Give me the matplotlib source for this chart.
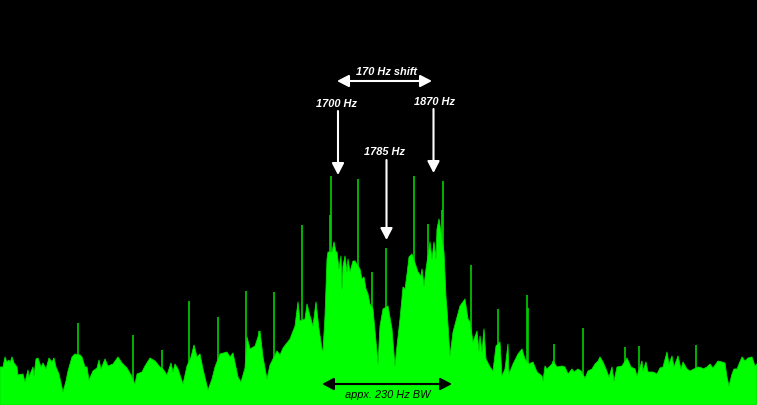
import matplotlib
matplotlib.use("Agg")
import matplotlib.pyplot as plt

# spectrum envelope (column, height above the bottom edge)
env_x = [0, 3, 5, 7, 9, 10, 12, 14, 17, 18, 23, 25, 28, 29, 33, 34, 36, 38, 41, 43, 46, 49, 52, 54, 56, 59, 63,
         66, 68, 72, 75, 80, 82, 85, 87, 89, 93, 97, 99, 101, 105, 108, 113, 118, 122, 127, 131, 135, 137,
         142, 145, 150, 155, 160, 163, 167, 171, 173, 175, 178, 183, 187, 191, 194, 197, 200, 203, 208, 212,
         215, 220, 227, 230, 233, 238, 241, 245, 247, 250, 255, 260, 263, 267, 270, 277, 280, 283,
         290, 295, 298, 300, 305, 307, 310, 313, 316, 319, 322, 323, 325, 327, 328, 332, 334, 336, 337, 339, 341,
         342, 343, 345, 347, 348, 350, 353, 355, 360, 362, 364, 366, 368, 370, 373, 377, 378, 380, 383, 388,
         392, 395, 397, 400, 403, 405, 407, 409, 412, 417, 418, 421, 422, 424, 426, 430, 432, 434, 436, 437, 439,
         444, 446, 447, 450, 453, 460, 465, 468, 470, 473, 477, 479, 480, 482, 484, 486,
         490, 493, 496, 500, 502, 505, 508, 509, 513, 518, 522, 525, 529, 533, 537, 542, 543,
         545, 547, 552, 553, 557, 562, 565, 568, 572, 574, 578, 581, 585, 588, 592, 595, 598, 600, 603, 606, 609,
         612, 614, 617, 622, 627, 631, 635, 637, 642, 643, 646, 648, 653, 657, 660, 663, 667, 669, 672, 674, 678,
         681, 683, 687, 690, 698, 702, 703, 707, 710, 713, 718, 722, 725, 727, 729, 732, 734, 737, 739, 742, 745,
         748, 752, 755, 757]
env_h = [38, 38, 48, 43, 45, 42, 48, 42, 38, 30, 31, 23, 35, 28, 38, 29, 46, 47, 38, 42, 36, 47, 43, 47, 38, 31, 13,
         24, 34, 48, 51, 50, 48, 38, 38, 25, 34, 37, 45, 36, 46, 39, 41, 48, 42, 37, 30, 21, 31,
         33, 39, 47, 44, 38, 36, 30, 42, 33, 41, 36, 21, 39, 48, 60, 48, 51, 36, 15, 26,
         38, 51, 53, 48, 52, 28, 23, 37, 68, 56, 59, 74, 48, 26, 40, 54, 50, 57,
         66, 79, 103, 84, 86, 101, 89, 79, 103, 76, 56, 54, 89, 146, 153, 153, 163, 153, 153, 136, 149,
         116, 139, 149, 133, 146, 133, 144, 144, 136, 126, 128, 116, 111, 101, 96, 53, 41, 79, 96, 99,
         76, 39, 59, 86, 118, 116, 131, 148, 151, 136, 133, 129, 136, 119, 136, 163, 146, 163, 146, 176, 186,
         153, 108, 96, 49, 73, 99, 106, 86, 83, 63, 74, 54, 69, 53, 76, 46,
         38, 34, 59, 63, 29, 36, 61, 31, 41, 51, 56, 46, 41, 43, 33, 29, 24,
         39, 36, 41, 44, 38, 39, 38, 31, 36, 33, 36, 34, 27, 34, 36, 41, 44, 48, 43, 36, 28,
         38, 24, 38, 39, 47, 38, 36, 29, 44, 34, 43, 33, 33, 31, 37, 38, 53, 41, 49, 38, 49,
         36, 43, 36, 34, 38, 37, 36, 38, 41, 37, 44, 43, 42, 28, 19, 31, 36, 36, 41, 48, 44,
         47, 48, 39, 41]

# narrow carriers standing above the envelope
spike_x = [78, 133, 162, 189, 218, 246, 259, 274, 302, 330, 331, 358, 372, 386, 414, 428, 442, 443, 471, 498, 527, 528, 554, 583, 625, 639, 696]
spike_h = [82, 70, 55, 104, 88, 114, 74, 113, 180, 190, 229, 226, 133, 157, 229, 181, 195, 224, 140, 96, 110, 97, 61, 77, 58, 59, 60]

white_labels = ["170 Hz shift", "1700 Hz", "1870 Hz", "1785 Hz"]
label_x = [386, 336, 435, 384]
label_y = [72, 104, 102, 152]

H = 406
fig = plt.figure(figsize=(7.57, 4.06), dpi=100, facecolor="black")
ax = fig.add_axes([0, 0, 1, 1], facecolor="black")
ax.set_xlim(0, 757)
ax.set_ylim(0, H)
ax.axis("off")

# spikes go behind the fill so they only show above the envelope
ax.vlines(spike_x, 0, spike_h, color="#00d000", lw=1.2, zorder=1)
ax.fill_between(env_x, 0, env_h, color="#00ff00", lw=0.6, edgecolor="#00e000", zorder=2)

plt.rcParams["font.family"] = ["Liberation Sans", "DejaVu Sans"]


def arrow(x0, y0, x1, y1, color, style="-|>"):
    ax.annotate("", xy=(x1, H - y1), xytext=(x0, H - y0), zorder=3,
                arrowprops=dict(arrowstyle=style + ",head_length=0.5,head_width=0.26", color=color,
                                lw=1.5, mutation_scale=14, shrinkA=0, shrinkB=0))


arrow(338, 112, 338, 176, "white")
arrow(433.5, 110, 433.5, 174, "white")
arrow(386.5, 161, 386.5, 241, "white")
arrow(337, 82, 432, 82, "white", "<|-|>")
arrow(322, 385, 452, 385, "black", "<|-|>")

for s, x, y in zip(white_labels, label_x, label_y):
    ax.text(x, H - y, s, color="white", fontsize=7.9, style="italic", weight="bold", ha="center", va="center")
ax.text(388, H - 395, "appx. 230 Hz BW", color="black", fontsize=7.9, style="italic", ha="center", va="center")

fig.savefig("out.png", dpi=100, facecolor="black")
